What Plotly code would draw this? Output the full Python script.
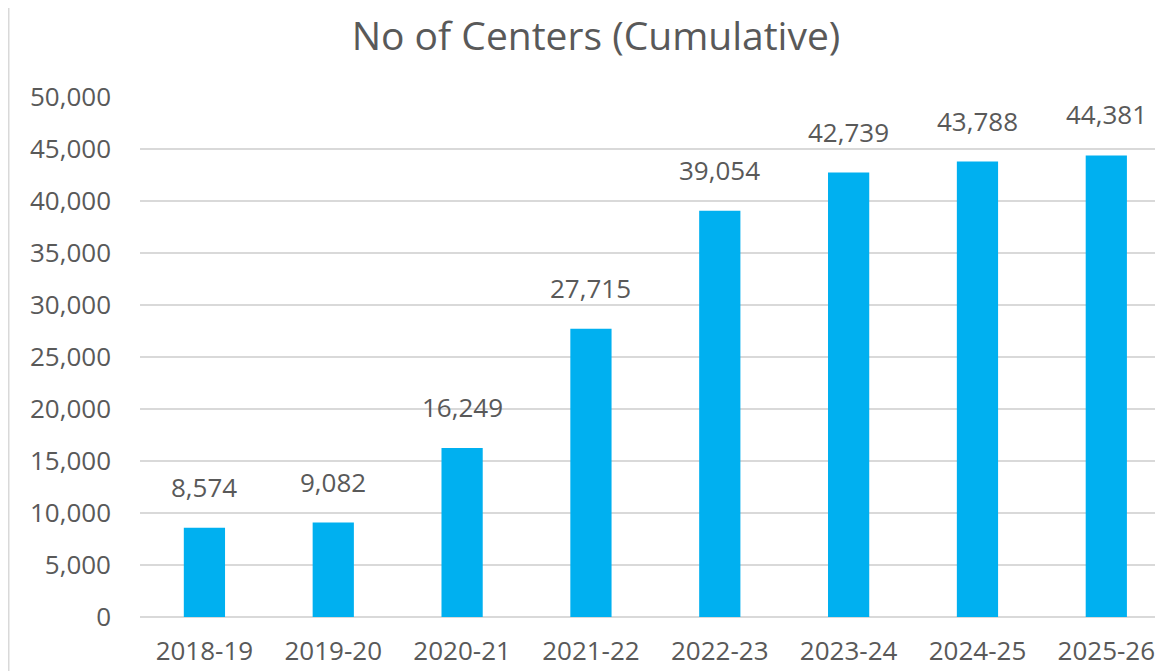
import plotly.graph_objects as go

categories = ["2018-19", "2019-20", "2020-21", "2021-22", "2022-23", "2023-24", "2024-25", "2025-26"]
centers = [8574, 9082, 16249, 27715, 39054, 42739, 43788, 44381]
y_ticks = [0, 5000, 10000, 15000, 20000, 25000, 30000, 35000, 40000, 45000, 50000]

TXT = "#595959"
FONT = "Open Sans"

W, H = 1155, 663  # page body adds an 8px offset
L, T, B, R = 132, 89, 54, 0

fig = go.Figure()
fig.add_trace(go.Bar(
    x=categories, y=centers,
    marker=dict(color="#00B0F0", line=dict(width=0)),
    width=0.32,
    hoverinfo="x+y",
))

for c, v in zip(categories, centers):
    fig.add_annotation(x=c, y=v, text=f"{v:,}", showarrow=False,
                       yanchor="bottom", yshift=21,
                       font=dict(family=FONT, size=26, color=TXT))

bx = (0.5 - L) / (W - L - R)
fig.add_shape(type="line", xref="paper", yref="paper",
              x0=bx, x1=bx, y0=-1, y1=2, line=dict(color="#d9d9d9", width=2))

fig.update_layout(
    width=W, height=H,
    margin=dict(l=L, r=R, t=T, b=B),
    paper_bgcolor="white", plot_bgcolor="white",
    showlegend=False,
    title=dict(text="No of Centers (Cumulative)", x=(588 - L) / (W - L - R), xref="paper",
               xanchor="center", y=1 - 28 / H, yanchor="middle",
               font=dict(family=FONT, size=39, color=TXT)),
    xaxis=dict(range=[-0.5, 7.44], showline=False, showgrid=False, zeroline=False,
               tickfont=dict(family=FONT, size=26, color=TXT), ticklabelstandoff=16),
    yaxis=dict(range=[0, 50000], tickvals=y_ticks, tickformat=",d",
               showgrid=True, gridcolor="#d9d9d9", gridwidth=1.5,
               zeroline=True, zerolinecolor="#d9d9d9", zerolinewidth=1.5,
               showline=False,
               tickfont=dict(family=FONT, size=26, color=TXT), ticklabelstandoff=28),
)

fig.write_html("out.html")
